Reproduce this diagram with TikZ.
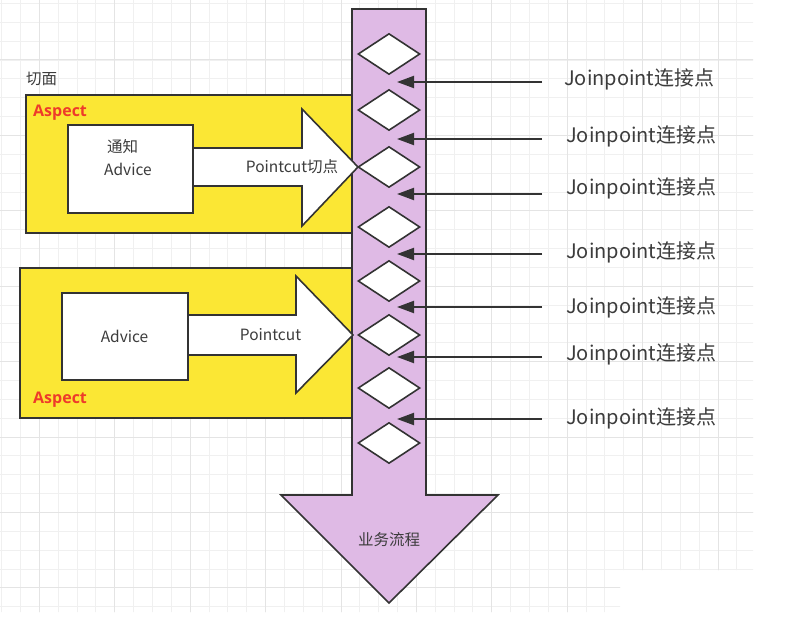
\documentclass[tikz,border=0pt]{standalone}
\usepackage{fontspec}
\setmainfont{Noto Sans CJK SC}
\newfontfamily\aspfont{Open Sans}
\usetikzlibrary{arrows.meta,shapes.geometric}
\definecolor{ink}{HTML}{333333}
\definecolor{txt}{HTML}{3C3C3C}
\definecolor{yel}{HTML}{FBE734}
\definecolor{pur}{HTML}{DFBAE5}
\definecolor{redlbl}{HTML}{EE3B2A}
\definecolor{gmin}{HTML}{F0F0F0}
\definecolor{gmaj}{HTML}{E4E4E4}
\begin{document}
\begin{tikzpicture}[x=1pt,y=-1pt,
  box/.style={draw=ink, line width=1.6pt, inner sep=0pt, anchor=north west},
  aspectbox/.style={box, fill=yel},
  advbox/.style={box, fill=white},
  blockarrow/.style={draw=ink, fill=white, line width=1.6pt, line join=miter},
  flow/.style={draw=ink, fill=pur, line width=1.6pt, line join=miter},
  jp/.style={draw=ink, line width=2pt, -{Triangle[length=17pt,width=12pt]}},
  dia/.style={diamond, draw=ink, fill=white, line width=1.6pt, minimum width=62pt, minimum height=41pt, inner sep=0pt},
  lbl/.style={text=txt, inner sep=0pt, font=\fontsize{15.5}{18}\selectfont},
  jlbl/.style={text=txt, inner sep=0pt, anchor=west, font=\fontsize{20}{24}\selectfont},
  asplbl/.style={text=redlbl, inner sep=0pt, anchor=west, font=\aspfont\bfseries\fontsize{16}{19}\selectfont}
]
\useasboundingbox (0,0) rectangle (787,618);
\fill[white] (0,0) rectangle (787,618);
% grid
\begin{scope}
\clip (0,0) -- (753,0) -- (753,570) -- (620,570) -- (620,612) -- (0,612) -- cycle;
\foreach \i in {0,...,39} \draw[gmin, line width=0.8pt] ({1.6+18.85*\i},0) -- ({1.6+18.85*\i},618);
\foreach \i in {0,...,32} \draw[gmin, line width=0.8pt] (0,{3.4+18.85*\i}) -- (787,{3.4+18.85*\i});
\foreach \i in {0,...,9} \draw[gmaj, line width=1pt] ({39.4+75.4*\i},0) -- ({39.4+75.4*\i},618);
\foreach \i in {0,...,7} \draw[gmaj, line width=1pt] (0,{60+75.4*\i}) -- (787,{60+75.4*\i});
\end{scope}

% aspect boxes
\node[aspectbox, minimum width=328pt, minimum height=138pt] (asp1) at (25,94) {};
\node[aspectbox, minimum width=334pt, minimum height=150pt] (asp2) at (19,267) {};

% business flow arrow
\draw[flow] (352,9) -- (426,9) -- (426,495) -- (498,495) -- (389,603) -- (281,495) -- (352,495) -- cycle;
\node[lbl] (flowlbl) at (389,540) {业务流程};

% joinpoints (diamonds)
\foreach \n/\y in {1/54,2/110,3/167,4/227,5/281,6/335,7/388,8/443}
  \node[dia] (d\n) at (389,\y) {};

% block arrows (pointcuts)
\draw[blockarrow] (190,148) -- (302,148) -- (302,109) -- (358,167) -- (302,226) -- (302,186) -- (190,186) -- cycle;
\draw[blockarrow] (185,315) -- (296,315) -- (296,276) -- (353,335) -- (296,393) -- (296,355) -- (185,355) -- cycle;

% advice boxes
\node[advbox, minimum width=125pt, minimum height=88pt] (adv1) at (67,124) {};
\node[advbox, minimum width=126pt, minimum height=87pt] (adv2) at (61,292) {};

% labels
\node[lbl, anchor=west] (qm) at (26,79) {切面};
\node[asplbl] (a1) at (33,113) {Aspect};
\node[asplbl] (a2) at (33,400) {Aspect};
\node[lbl, anchor=west] (tz) at (107,147) {通知};
\node[lbl, anchor=west] (ad1) at (104,169) {Advice};
\node[lbl] (ad2) at (124.5,336) {Advice};
\node[lbl] (pc1) at (292,167) {Pointcut切点};
\node[lbl] (pc2) at (270.5,335) {Pointcut};

% joinpoint labels and arrows
\foreach \n/\ly/\ay/\lx in {1/79/82/564,2/136/139/566,3/188/194/566,4/252/254/566,5/307/307/566,6/354/357/566,7/418/419/566} {
  \node[jlbl] (j\n) at (\lx,\ly) {Joinpoint连接点};
  \coordinate (s\n) at (542,\ay);
  \coordinate (t\n) at (397,\ay);
  \draw[jp] (s\n) -- (t\n);
}
\end{tikzpicture}
\end{document}
